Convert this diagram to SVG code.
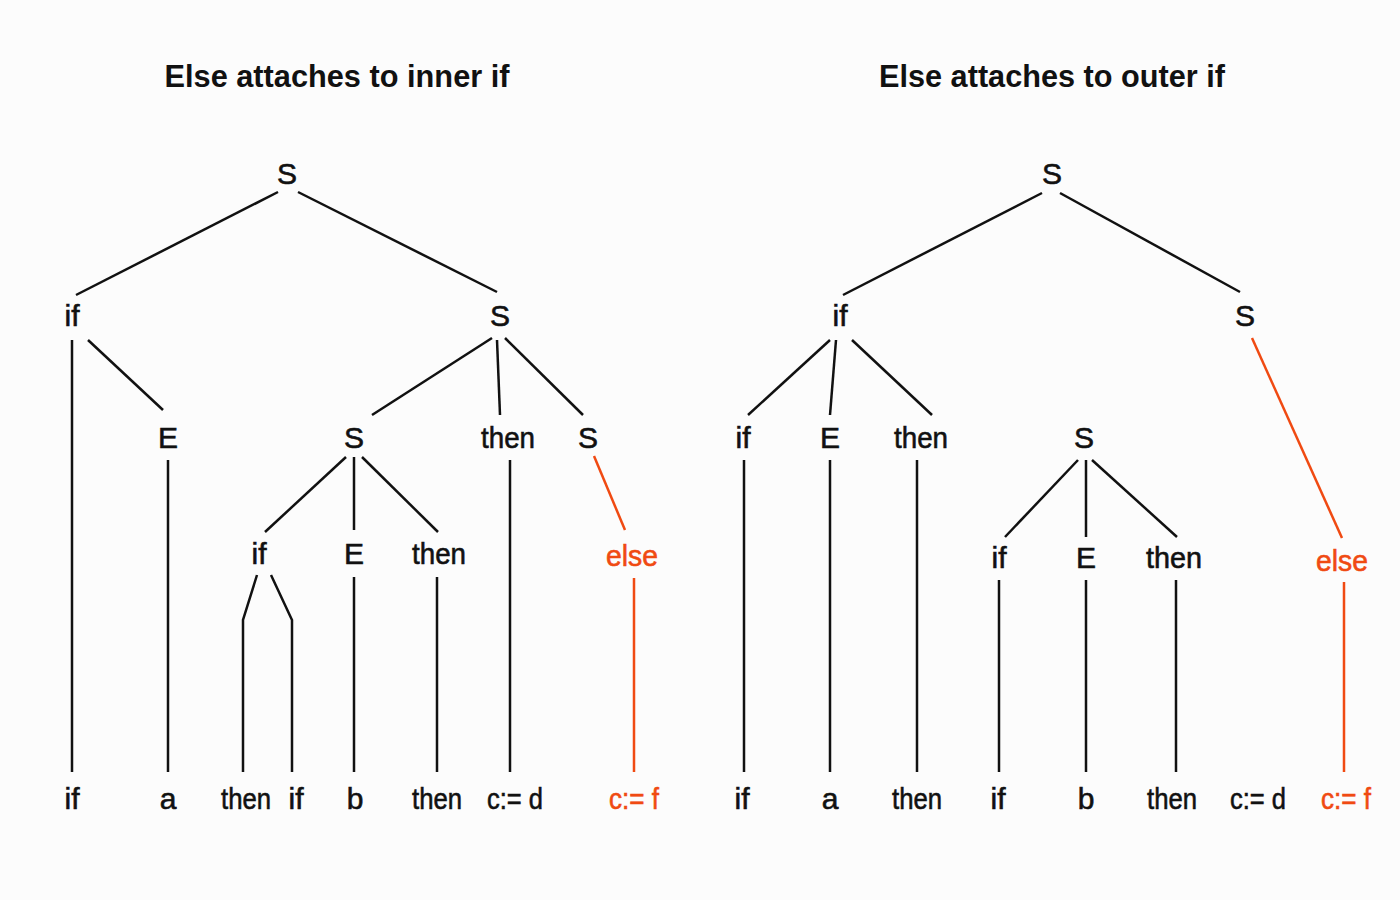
<svg xmlns="http://www.w3.org/2000/svg" width="1400" height="900" viewBox="0 0 1400 900">
<style>
text{font-family:"Liberation Sans",Arial,sans-serif;font-size:30px;text-anchor:middle;fill:#111;stroke:#111;stroke-width:0.6}
.t{font-size:32px;font-weight:bold;stroke:none}
.o{fill:#f04a12;stroke:#f04a12}
line,polyline{stroke:#111;stroke-width:2.5;fill:none}
.ol{stroke:#f04a12}
</style>
<rect width="1400" height="900" fill="#fcfcfc"/>
<text class="t" x="337" y="87" textLength="345" lengthAdjust="spacingAndGlyphs">Else attaches to inner if</text>
<text class="t" x="1052" y="87" textLength="346" lengthAdjust="spacingAndGlyphs">Else attaches to outer if</text>
<g id="connectors">
<line x1="278" y1="192" x2="76" y2="295"/>
<line x1="298" y1="192" x2="497" y2="292"/>
<line x1="72" y1="340" x2="72" y2="772"/>
<line x1="88" y1="340" x2="163" y2="410"/>
<line x1="168" y1="460" x2="168" y2="772"/>
<line x1="492" y1="338" x2="372" y2="415"/>
<line x1="497" y1="340" x2="500" y2="415"/>
<line x1="505" y1="338" x2="583" y2="415"/>
<line x1="510" y1="460" x2="510" y2="772"/>
<line class="ol" x1="594" y1="456" x2="625" y2="530"/>
<line class="ol" x1="634" y1="578" x2="634" y2="772"/>
<line x1="346" y1="457" x2="265" y2="532"/>
<line x1="354" y1="457" x2="354" y2="530"/>
<line x1="362" y1="457" x2="438" y2="532"/>
<polyline points="257,575 243,620 243,772"/>
<polyline points="271,575 292,620 292,772"/>
<line x1="354" y1="577" x2="354" y2="772"/>
<line x1="437" y1="577" x2="437" y2="772"/>
<line x1="1042" y1="193" x2="843" y2="295"/>
<line x1="1060" y1="193" x2="1240" y2="292"/>
<line x1="830" y1="340" x2="748" y2="415"/>
<line x1="836" y1="340" x2="830" y2="415"/>
<line x1="852" y1="340" x2="932" y2="415"/>
<line x1="744" y1="460" x2="744" y2="772"/>
<line x1="830" y1="460" x2="830" y2="772"/>
<line x1="917" y1="460" x2="917" y2="772"/>
<line class="ol" x1="1252" y1="338" x2="1342" y2="538"/>
<line class="ol" x1="1344" y1="582" x2="1344" y2="772"/>
<line x1="1078" y1="460" x2="1005" y2="537"/>
<line x1="1086" y1="460" x2="1086" y2="537"/>
<line x1="1092" y1="460" x2="1177" y2="537"/>
<line x1="999" y1="580" x2="999" y2="772"/>
<line x1="1086" y1="580" x2="1086" y2="772"/>
<line x1="1176" y1="580" x2="1176" y2="772"/>
</g>
<g id="left-nodes">
<g id="L1"><text x="287" y="184">S</text></g>
<g id="L2"><text x="72" y="326">if</text></g>
<g id="L3"><text x="500" y="326">S</text></g>
<g id="L4"><text x="168" y="448">E</text></g>
<g id="L5"><text x="354" y="448">S</text></g>
<g id="L6"><text x="508" y="448" textLength="54" lengthAdjust="spacingAndGlyphs">then</text></g>
<g id="L7"><text x="588" y="448">S</text></g>
<g id="L8"><text x="259" y="564">if</text></g>
<g id="L9"><text x="354" y="564">E</text></g>
<g id="L10"><text x="439" y="564" textLength="54" lengthAdjust="spacingAndGlyphs">then</text></g>
<g id="L11"><text class="o" x="632" y="566" textLength="52" lengthAdjust="spacingAndGlyphs">else</text></g>
<g id="L12"><text x="72" y="809">if</text></g>
<g id="L13"><text x="168" y="809">a</text></g>
<g id="L14"><text x="246" y="809" textLength="50" lengthAdjust="spacingAndGlyphs">then</text></g>
<g id="L15"><text x="296" y="809">if</text></g>
<g id="L16"><text x="355" y="809">b</text></g>
<g id="L17"><text x="437" y="809" textLength="50" lengthAdjust="spacingAndGlyphs">then</text></g>
<g id="L18"><text x="515" y="809" textLength="56" lengthAdjust="spacingAndGlyphs">c:= d</text></g>
<g id="L19"><text class="o" x="634" y="809" textLength="50" lengthAdjust="spacingAndGlyphs">c:= f</text></g>
</g>
<g id="right-nodes">
<g id="R1"><text x="1052" y="184">S</text></g>
<g id="R2"><text x="840" y="326">if</text></g>
<g id="R3"><text x="1245" y="326">S</text></g>
<g id="R4"><text x="743" y="448">if</text></g>
<g id="R5"><text x="830" y="448">E</text></g>
<g id="R6"><text x="921" y="448" textLength="54" lengthAdjust="spacingAndGlyphs">then</text></g>
<g id="R7"><text x="1084" y="448">S</text></g>
<g id="R8"><text x="999" y="568">if</text></g>
<g id="R9"><text x="1086" y="568">E</text></g>
<g id="R10"><text x="1174" y="568" textLength="56" lengthAdjust="spacingAndGlyphs">then</text></g>
<g id="R11"><text class="o" x="1342" y="571" textLength="52" lengthAdjust="spacingAndGlyphs">else</text></g>
<g id="R12"><text x="742" y="809">if</text></g>
<g id="R13"><text x="830" y="809">a</text></g>
<g id="R14"><text x="917" y="809" textLength="50" lengthAdjust="spacingAndGlyphs">then</text></g>
<g id="R15"><text x="998" y="809">if</text></g>
<g id="R16"><text x="1086" y="809">b</text></g>
<g id="R17"><text x="1172" y="809" textLength="50" lengthAdjust="spacingAndGlyphs">then</text></g>
<g id="R18"><text x="1258" y="809" textLength="56" lengthAdjust="spacingAndGlyphs">c:= d</text></g>
<g id="R19"><text class="o" x="1346" y="809" textLength="50" lengthAdjust="spacingAndGlyphs">c:= f</text></g>
</g>
</svg>
